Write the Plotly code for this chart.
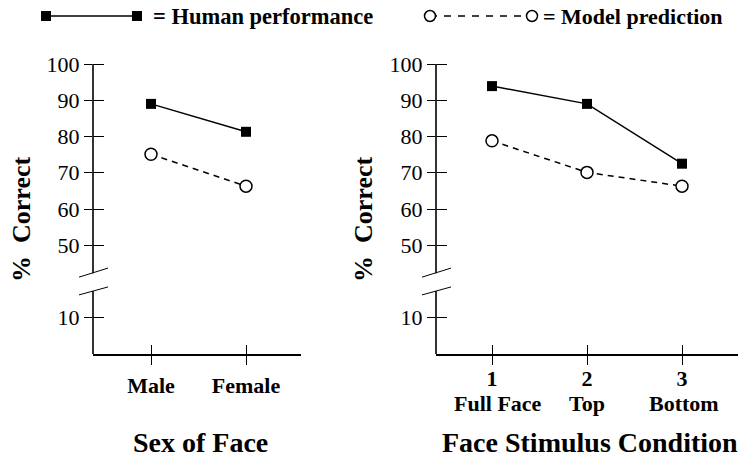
import plotly.graph_objects as go

# ---------------- data ----------------
sex_categories = ["Male", "Female"]
sex_human = [89.0, 81.3]
sex_model = [75.1, 66.3]

cond_numbers = ["1", "2", "3"]
cond_names = ["Full Face", "Top", "Bottom"]
cond_human = [93.9, 89.0, 72.5]
cond_model = [78.8, 70.1, 66.3]

y_tick_values = [10, 50, 60, 70, 80, 90, 100]
y_tick_labels = ["10", "50", "60", "70", "80", "90", "100"]

# broken axis: values above the break are shifted down by GAP
BREAK_AT = 30
GAP = 20


def disp(v):
    return v if v < BREAK_AT else v - GAP


FONT = "Liberation Serif"
W, H = 740, 457

fig = go.Figure()

sq = dict(symbol="square", size=10, color="black")
circ = dict(symbol="circle", size=12, color="white", line=dict(color="black", width=1.5))

# left panel
xs_left = list(range(len(sex_categories)))
fig.add_trace(go.Scatter(x=xs_left, y=[disp(v) for v in sex_human], mode="lines+markers",
                         line=dict(color="black", width=1.5), marker=sq,
                         xaxis="x", yaxis="y", showlegend=False))
fig.add_trace(go.Scatter(x=xs_left, y=[disp(v) for v in sex_model], mode="lines+markers",
                         line=dict(color="black", width=1.5, dash="6px,5px"), marker=circ,
                         xaxis="x", yaxis="y", showlegend=False))

# right panel
xs_right = [1, 2, 3]
fig.add_trace(go.Scatter(x=xs_right, y=[disp(v) for v in cond_human], mode="lines+markers",
                         line=dict(color="black", width=1.5), marker=sq,
                         xaxis="x2", yaxis="y2", showlegend=False))
fig.add_trace(go.Scatter(x=xs_right, y=[disp(v) for v in cond_model], mode="lines+markers",
                         line=dict(color="black", width=1.5, dash="6px,5px"), marker=circ,
                         xaxis="x2", yaxis="y2", showlegend=False))

# legend keys on a pixel-coordinate overlay axis
fig.add_trace(go.Scatter(x=[46, 137], y=[16, 16], mode="lines+markers",
                         line=dict(color="black", width=1.5),
                         marker=dict(symbol="square", size=10, color="black"),
                         xaxis="x3", yaxis="y3", showlegend=False, hoverinfo="skip",
                         cliponaxis=False))
fig.add_trace(go.Scatter(x=[430, 532], y=[16, 16], mode="lines+markers",
                         line=dict(color="black", width=1.5, dash="7px,7px"),
                         marker=dict(symbol="circle", size=11, color="white",
                                     line=dict(color="black", width=1.5)),
                         xaxis="x3", yaxis="y3", showlegend=False, hoverinfo="skip",
                         cliponaxis=False))

y_dom = [(H - 354) / H, (H - 64) / H]
x1_dom = [93 / W, 301 / W]
x2_dom = [436 / W, 738 / W]

x1_range = [-58 / 95, -58 / 95 + 208 / 95]
x2_range = [1 - 56 / 95, 1 - 56 / 95 + 302 / 95]

ytick_disp = [disp(v) for v in y_tick_values]

yax = dict(range=[0, 80], domain=y_dom, showline=False, showgrid=False, zeroline=False,
           automargin=False,
           tickmode="array", tickvals=ytick_disp, ticktext=y_tick_labels,
           ticks="outside", ticklen=8, tickwidth=1, tickcolor="black",
           minor=dict(ticks="inside", ticklen=11, tickwidth=1, tickcolor="black",
                      tickmode="array", tickvals=ytick_disp),
           tickfont=dict(family=FONT, size=22, color="black"), fixedrange=True)

xax_common = dict(showline=True, linewidth=1.6, linecolor="black", showgrid=False, zeroline=False,
                  automargin=False, tickwidth=1, tickcolor="black",
                  tickfont=dict(family=FONT, size=22, color="black"), fixedrange=True)

fig.update_layout(
    template="none",
    width=W, height=H, margin=dict(l=0, r=0, t=0, b=0, pad=0),
    plot_bgcolor="rgba(0,0,0,0)", paper_bgcolor="white", showlegend=False,
    xaxis=dict(domain=x1_dom, range=x1_range, anchor="y", tickmode="array",
               tickvals=xs_left, ticktext=[f"<b>{c}</b>" for c in sex_categories],
               ticks="outside", ticklen=9, ticklabelstandoff=2,
               minor=dict(ticks="inside", ticklen=9, tickwidth=1, tickcolor="black",
                          tickmode="array", tickvals=xs_left), **xax_common),
    yaxis=dict(anchor="x", **yax),
    xaxis2=dict(domain=x2_dom, range=x2_range, anchor="y2", tickmode="array",
                tickvals=xs_right, ticktext=[f"<b>{c}</b>" for c in cond_numbers],
                ticks="inside", ticklen=9, ticklabelstandoff=4,
                minor=dict(ticks="outside", ticklen=9, tickwidth=1, tickcolor="black",
                           tickmode="array", tickvals=xs_right), **xax_common),
    yaxis2=dict(anchor="x2", **yax),
    xaxis3=dict(domain=[0, 1], range=[0, W], visible=False, anchor="y3", fixedrange=True,
                automargin=False),
    yaxis3=dict(domain=[0, 1], range=[H, 0], visible=False, anchor="x3", fixedrange=True,
                automargin=False),
)


def py(v):
    """display-unit value -> paper y"""
    return y_dom[0] + v / 80 * (y_dom[1] - y_dom[0])


shapes = []
BREAK_LOW, BREAK_HIGH = 17.4, 22.3
for dom in (x1_dom, x2_dom):
    ax_x = dom[0]
    # broken vertical axis line
    for y0, y1 in ((0, BREAK_LOW), (BREAK_HIGH, 80)):
        shapes.append(dict(type="line", xref="paper", yref="paper", x0=ax_x, x1=ax_x,
                           y0=py(y0), y1=py(y1), line=dict(color="black", width=1.6)))
    # break slashes
    for y0, y1 in ((21.2, 23.7), (16.3, 18.5)):
        shapes.append(dict(type="line", xref="paper", yref="paper",
                           x0=ax_x - 14 / W, x1=ax_x + 15 / W, y0=py(y0), y1=py(y1),
                           line=dict(color="black", width=1)))
fig.update_layout(shapes=shapes)

ann = []
bold = dict(family=FONT, color="black")
# y titles
for xp in (22, 364):
    ann.append(dict(text="<b>%\u00a0\u00a0Correct</b>", x=xp / W, y=(H - 220) / H, xref="paper", yref="paper",
                    textangle=-90, showarrow=False, font=dict(size=26, **bold),
                    xanchor="center", yanchor="middle"))
# condition names under numbers
shifts = [6, 0, 2]
for xv, name, s in zip(xs_right, cond_names, shifts):
    ann.append(dict(text=f"<b>{name}</b>", x=xv, y=(H - 403) / H, xref="x2", yref="paper",
                    xshift=s, showarrow=False, font=dict(size=22, **bold),
                    xanchor="center", yanchor="middle"))
# x titles
ann.append(dict(text="<b>Sex of Face</b>", x=200 / W, y=(H - 442) / H, xref="paper", yref="paper",
                showarrow=False, font=dict(size=28, **bold), xanchor="center", yanchor="middle"))
ann.append(dict(text="<b>Face Stimulus Condition</b>", x=590 / W, y=(H - 442) / H, xref="paper",
                yref="paper", showarrow=False, font=dict(size=28, **bold),
                xanchor="center", yanchor="middle"))
# legend texts
ann.append(dict(text="<b>= Human performance</b>", x=151 / W, y=(H - 16) / H, xref="paper", yref="paper",
                showarrow=False, font=dict(size=22.5, **bold), xanchor="left", yanchor="middle"))
ann.append(dict(text="<b>= Model prediction</b>", x=541 / W, y=(H - 16) / H, xref="paper", yref="paper",
                showarrow=False, font=dict(size=22, **bold), xanchor="left", yanchor="middle"))
fig.update_layout(annotations=ann)

fig.write_html("out.html")
